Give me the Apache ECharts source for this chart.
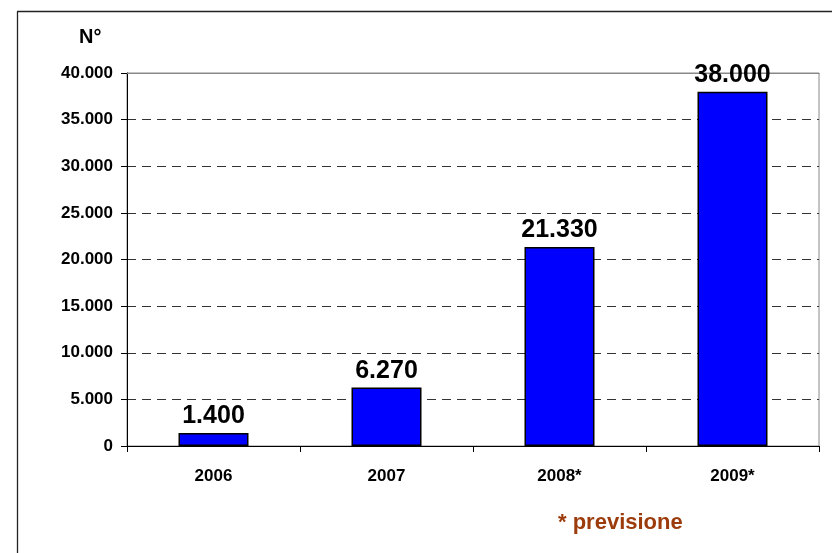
<!DOCTYPE html>
<html>
<head>
<meta charset="utf-8">
<script src="https://cdn.jsdelivr.net/npm/echarts@6/dist/echarts.min.js"></script>
<style>
html,body{margin:0;padding:0;background:#fff;}
#c{width:832px;height:553px;}
</style>
</head>
<body>
<div id="c"></div>
<script>
const categories = ['2006', '2007', '2008*', '2009*'];
const values = [1400, 6270, 21330, 38000];
const yTicks = [0, 5000, 10000, 15000, 20000, 25000, 30000, 35000, 40000];
const unitLabel = 'N°';
const noteText = '* previsione';

function fmt(v) {
  return String(Math.round(v)).replace(/\B(?=(\d{3})+(?!\d))/g, '.');
}

const FONT = '"Liberation Sans", Arial, sans-serif';
const chart = echarts.init(document.getElementById('c'), null, {renderer: 'canvas'});
chart.setOption({
  animation: false,
  backgroundColor: '#fff',
  grid: {left: 127, top: 73, right: 13, bottom: 107, show: true, borderColor: '#888', borderWidth: 1},
  xAxis: {
    type: 'category',
    data: categories,
    axisLine: {lineStyle: {color: '#000', width: 1}},
    axisTick: {show: true, length: 6, lineStyle: {color: '#000'}},
    axisLabel: {color: '#000', fontWeight: 'bold', fontSize: 17, fontFamily: FONT, margin: 22}
  },
  yAxis: {
    type: 'value',
    min: yTicks[0],
    max: yTicks[yTicks.length - 1],
    interval: yTicks[1] - yTicks[0],
    axisLine: {show: true, lineStyle: {color: '#000', width: 1}},
    axisTick: {show: true, length: 6, lineStyle: {color: '#000'}},
    axisLabel: {color: '#000', fontWeight: 'bold', fontSize: 17, fontFamily: FONT, margin: 14, formatter: fmt},
    splitLine: {show: true, lineStyle: {color: '#333', type: [9, 6], width: 1}}
  },
  series: [{
    type: 'bar',
    data: values,
    barWidth: 70,
    itemStyle: {color: '#0000FF', borderColor: '#000', borderWidth: 1.5},
    label: {
      show: true, position: 'top', distance: 4,
      color: '#000', fontWeight: 'bold', fontSize: 25, fontFamily: FONT,
      formatter: p => fmt(p.value)
    }
  }],
  graphic: [
    {type: 'line', shape: {x1: 17.5, y1: 11.5, x2: 17.5, y2: 560}, style: {stroke: '#222', lineWidth: 1.3}, silent: true},
    {type: 'line', shape: {x1: 17, y1: 11.5, x2: 840, y2: 11.5}, style: {stroke: '#222', lineWidth: 1.3}, silent: true},
    {type: 'line', z: 1, shape: {x1: 127, y1: 73.5, x2: 819.5, y2: 73.5}, style: {stroke: '#888', lineWidth: 1.2}, silent: true},
    {type: 'text', left: 79, top: 27, style: {text: unitLabel, font: 'bold 20px ' + FONT, fill: '#000'}},
    {type: 'text', left: 558, top: 512, style: {text: noteText, font: 'bold 22px ' + FONT, fill: '#9C3C0C'}}
  ]
});
</script>
</body>
</html>
